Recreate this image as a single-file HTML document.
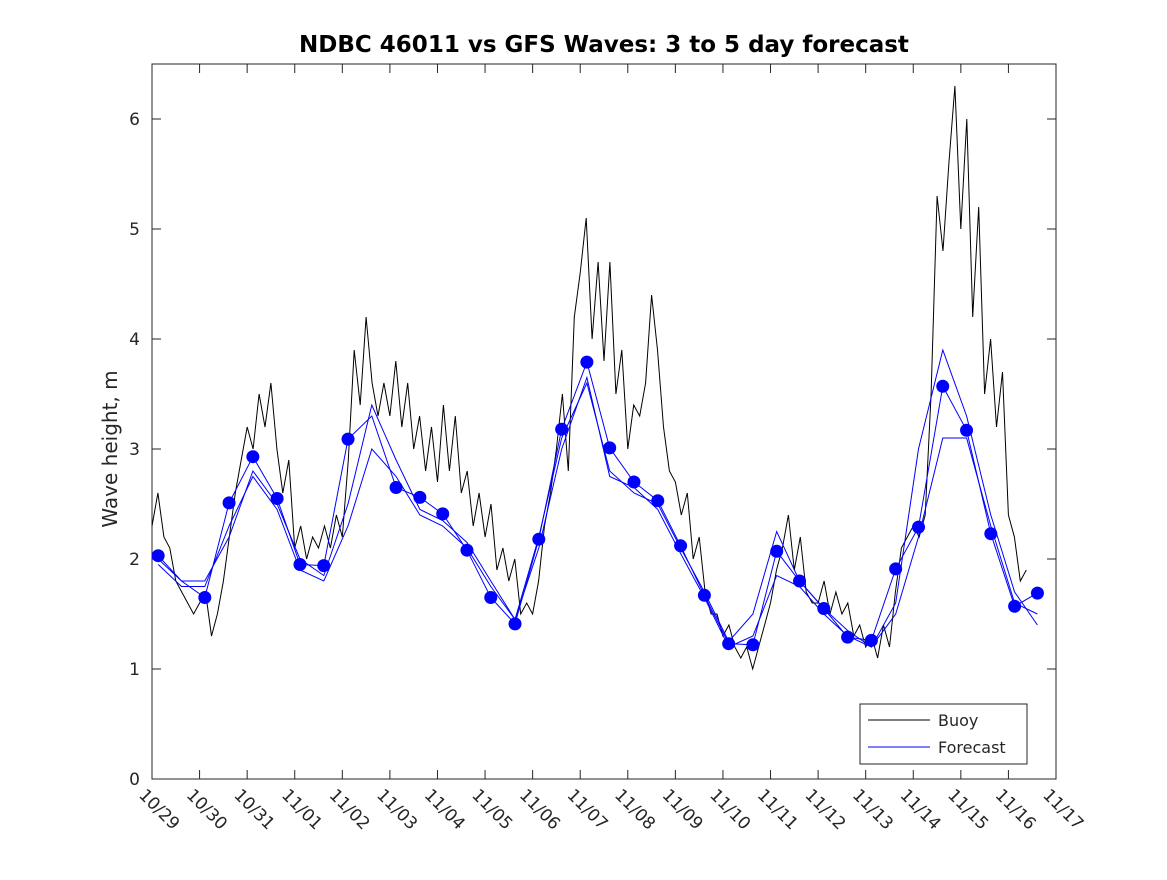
<!DOCTYPE html>
<html><head><meta charset="utf-8"><style>
html,body{margin:0;padding:0;background:#fff;}
svg text{font-family:"DejaVu Sans","Liberation Sans",sans-serif;fill:#262626;}
</style></head><body>
<svg id="chart" width="1167" height="875" viewBox="0 0 1167 875" xmlns="http://www.w3.org/2000/svg">
<rect x="0" y="0" width="1167" height="875" fill="#fff"/>
<text x="604" y="52" text-anchor="middle" font-size="23" font-weight="bold" style="fill:#000">NDBC 46011 vs GFS Waves: 3 to 5 day forecast</text>
<text transform="translate(117,449) rotate(-90)" text-anchor="middle" font-size="20">Wave height, m</text>
<rect x="152" y="64" width="904" height="715" fill="#fff" stroke="#262626" stroke-width="1"/>
<g id="grid"></g>
<g id="series"></g>
<g>
<rect x="860" y="704" width="167" height="60" fill="#fff" stroke="#262626" stroke-width="1"/>
<line x1="868" y1="720" x2="930" y2="720" stroke="#000" stroke-width="1"/>
<text x="938" y="726" font-size="16">Buoy</text>
<line x1="868" y1="747" x2="930" y2="747" stroke="#0000ff" stroke-width="1"/>
<text x="938" y="753" font-size="16">Forecast</text>
</g>
</svg>
<script>
const xLabels=["10/29","10/30","10/31","11/01","11/02","11/03","11/04","11/05","11/06","11/07","11/08","11/09","11/10","11/11","11/12","11/13","11/14","11/15","11/16","11/17"];
const yTicks=[0,1,2,3,4,5,6];
const buoyStep=0.125;
const buoyVals=[2.3,2.6,2.2,2.1,1.8,1.7,1.6,1.5,
1.6,1.7,1.3,1.5,1.8,2.2,2.6,2.9,
3.2,3.0,3.5,3.2,3.6,3.0,2.6,2.9,
2.1,2.3,2.0,2.2,2.1,2.3,2.1,2.4,
2.2,2.9,3.9,3.4,4.2,3.6,3.3,3.6,
3.3,3.8,3.2,3.6,3.0,3.3,2.8,3.2,
2.7,3.4,2.8,3.3,2.6,2.8,2.3,2.6,
2.2,2.5,1.9,2.1,1.8,2.0,1.5,1.6,
1.5,1.8,2.3,2.6,3.0,3.5,2.8,4.2,
4.6,5.1,4.0,4.7,3.8,4.7,3.5,3.9,
3.0,3.4,3.3,3.6,4.4,3.9,3.2,2.8,
2.7,2.4,2.6,2.0,2.2,1.7,1.5,1.5,
1.3,1.4,1.2,1.1,1.2,1.0,1.2,1.4,
1.6,1.9,2.1,2.4,1.9,2.2,1.7,1.6,
1.6,1.8,1.5,1.7,1.5,1.6,1.3,1.4,
1.2,1.3,1.1,1.4,1.2,1.7,2.1,2.2,
2.3,2.2,2.4,3.5,5.3,4.8,5.6,6.3,
5.0,6.0,4.2,5.2,3.5,4.0,3.2,3.7,
2.4,2.2,1.8,1.9];
const fcDays=[0.13,0.62,1.11,1.62,2.12,2.63,3.11,3.61,4.12,4.62,5.13,5.63,6.11,6.62,7.12,7.63,8.13,8.61,9.14,9.62,10.13,10.63,11.11,11.61,12.12,12.63,13.13,13.61,14.12,14.62,15.12,15.63,16.11,16.62,17.12,17.63,18.13,18.61];
const fcVals=[2.03,1.8,1.65,2.51,2.93,2.55,1.95,1.94,3.09,3.3,2.65,2.56,2.41,2.08,1.65,1.41,2.18,3.18,3.79,3.01,2.70,2.53,2.12,1.67,1.23,1.22,2.07,1.80,1.55,1.29,1.26,1.91,2.29,3.57,3.17,2.23,1.57,1.69];
const runB=[2.0,1.8,1.8,2.2,2.8,2.5,2.0,1.85,2.5,3.4,2.9,2.45,2.35,2.15,1.8,1.45,2.2,3.1,3.6,2.8,2.6,2.5,2.1,1.7,1.25,1.5,2.25,1.8,1.55,1.35,1.2,1.6,3.0,3.9,3.3,2.4,1.7,1.4];
const runC=[1.95,1.75,1.75,2.3,2.75,2.45,1.9,1.8,2.3,3.0,2.75,2.4,2.3,2.1,1.75,1.45,2.1,3.0,3.65,2.75,2.65,2.45,2.05,1.65,1.2,1.3,1.85,1.75,1.5,1.3,1.2,1.5,2.2,3.1,3.1,2.3,1.6,1.5];
const dotMask=[1,0,1,1,1,1,1,1,1,0,1,1,1,1,1,1,1,1,1,1,1,1,1,1,1,1,1,1,1,1,1,1,1,1,1,1,1,1];
const X=d=>152+d*904/19, Y=v=>779-v*110;
const NS="http://www.w3.org/2000/svg";
const grid=document.getElementById('grid'), ser=document.getElementById('series');
function mk(tag,attrs,parent){const e=document.createElementNS(NS,tag);for(const k in attrs)e.setAttribute(k,attrs[k]);parent.appendChild(e);return e;}
yTicks.forEach(v=>{
 const t=mk('line',{x1:152,x2:161,y1:Y(v),y2:Y(v),stroke:'#262626'},grid);
 
 
 mk('line',{x1:1047,x2:1056,y1:Y(v),y2:Y(v),stroke:'#262626'},grid);
 const l=mk('text',{x:140,y:Y(v)+6,'text-anchor':'end','font-size':'17'},grid);
 l.textContent=v;
 
 
});
xLabels.forEach((s,i)=>{
 const x=X(i);
 const t=mk('line',{x1:x,x2:x,y1:779,y2:770,stroke:'#262626'},grid);
 
 
 mk('line',{x1:x,x2:x,y1:64,y2:73,stroke:'#262626'},grid);
 const l=mk('text',{transform:`translate(${x-14},${796}) rotate(45)`,'font-size':'17'},grid);
 l.textContent=s;
 
 
});
function path(xs,vs){return xs.map((d,i)=>(i?'L':'M')+X(d).toFixed(1)+','+Y(vs[i]).toFixed(1)).join('');}
const buoyDays=buoyVals.map((v,i)=>i*buoyStep);
const b=mk('path',{d:path(buoyDays,buoyVals),fill:'none',stroke:'#000','stroke-width':1},ser);


[fcVals,runB,runC].forEach((vs,k)=>{
 const p=mk('path',{d:path(fcDays,vs),fill:'none',stroke:'#0000ff','stroke-width':1},ser);
 
 
});
fcDays.forEach((d,i)=>{
 if(!dotMask[i])return;
 const c=mk('circle',{cx:X(d),cy:Y(fcVals[i]),r:6.5,fill:'#0000ff'},ser);
 
 
});
</script>
</body></html>
